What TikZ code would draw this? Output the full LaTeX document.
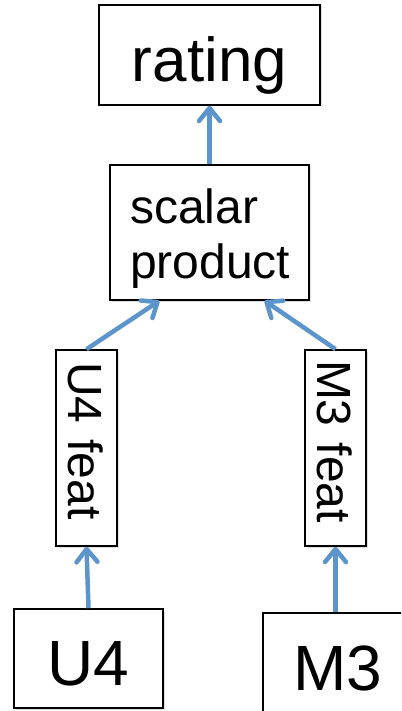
\documentclass[tikz,border=0pt]{standalone}
\usepackage{fontspec}
\setmainfont{Liberation Sans}
\usetikzlibrary{arrows.meta,calc,shadows}
\definecolor{arrowblue}{RGB}{92,148,204}
\begin{document}
\begin{tikzpicture}[x=1pt,y=-1pt,
  box/.style={draw=black,line width=1.6pt,fill=white,inner sep=0pt,
    drop shadow={shadow xshift=1.5pt,shadow yshift=-1.5pt,opacity=0.25}},
  conn/.style={draw=arrowblue,line width=4.5pt,
    -{Straight Barb[length=13pt,width=21pt,line cap=round,line join=round]}}]
\useasboundingbox (0,0) rectangle (401,711);
\clip (0,0) rectangle (401,711);
\node[box,minimum width=221pt,minimum height=100pt,text height=54pt,text depth=0pt,
  font=\fontsize{62}{70}\selectfont] (rating) at (209.5,55) {rating};
\node[box,minimum width=199pt,minimum height=135pt] (sp) at (209.5,232.5) {};
\node[anchor=base west,inner sep=0pt,font=\fontsize{48}{55}\selectfont] (spa) at (130,223) {scalar};
\node[anchor=base west,inner sep=0pt,font=\fontsize{48}{55}\selectfont] (spb) at (130,278) {product};
\node[box,rotate=-90,minimum width=196pt,minimum height=61pt,text width=172pt,align=left,
  text height=37pt,text depth=0pt,font=\fontsize{48}{55}\selectfont] (ufeat) at (86.5,448) {U4 feat};
\node[box,rotate=-90,minimum width=196pt,minimum height=61pt,text width=176pt,align=left,
  text height=37pt,text depth=0pt,font=\fontsize{48}{55}\selectfont] (mfeat) at (335.5,448) {M3 feat};
\node[box,minimum width=149pt,minimum height=99pt,text height=53pt,text depth=0pt,
  font=\fontsize{64}{70}\selectfont] (u4) at (88.5,658.5) {U4};
\node[box,minimum width=200pt,minimum height=110pt,text width=140pt,align=left,
  text height=44pt,text depth=0pt,font=\fontsize{64}{70}\selectfont] (m3) at (363,668) {M3};
\draw[conn] (sp.north) -- (rating.south);
\draw[conn] (ufeat.west) -- ($(sp.south west)!0.25!(sp.south east)$);
\draw[conn] (mfeat.west) -- ($(sp.south west)!0.775!(sp.south east)$);
\draw[conn] (u4.north) -- (ufeat.east);
\draw[conn] (m3.north -| mfeat.east) -- (mfeat.east);
\end{tikzpicture}
\end{document}
